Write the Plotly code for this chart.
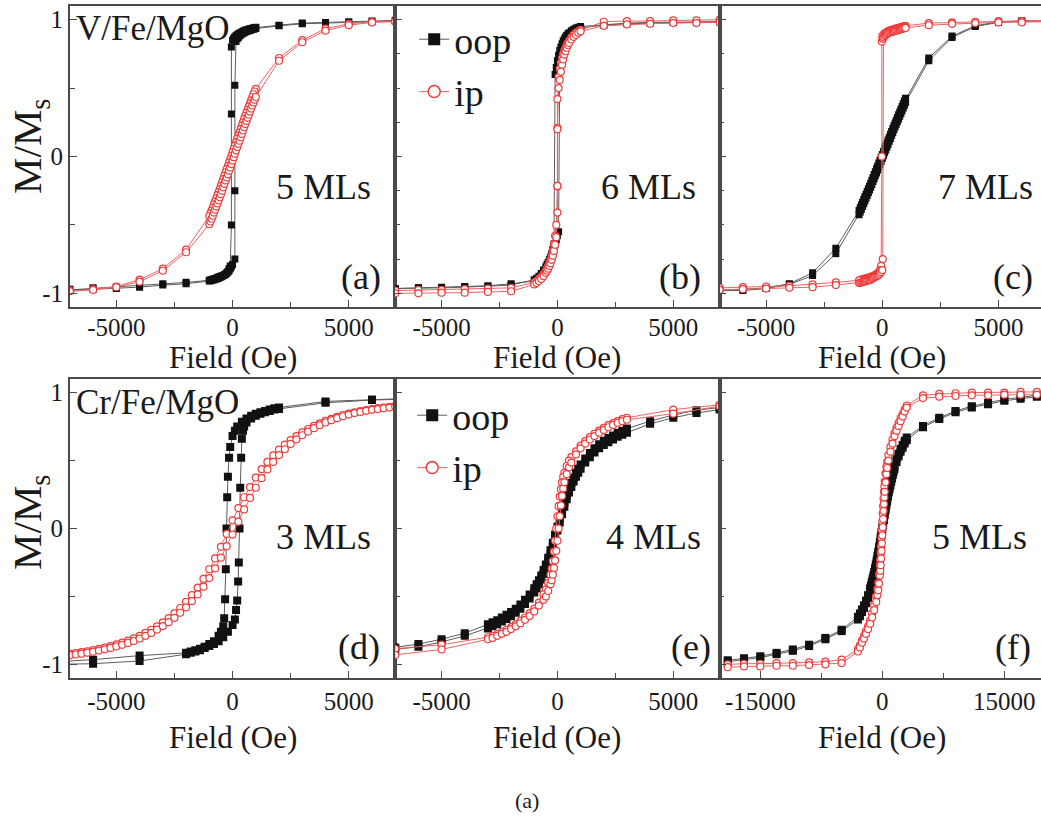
import plotly.graph_objects as go

W, H = 1047, 816
FONT = "Liberation Serif, Times New Roman, Times, serif"
TXT = "#1a1a1a"

# ---------------- data ----------------
# (a) V/Fe/MgO, 5 MLs
A_OOP_DN_X = [7000, 6000, 5000, 4000, 3000, 2000,
              1000, 950, 900, 850, 800, 750, 700, 650, 600, 550, 500, 450, 400, 350, 300, 250, 200, 150, 100, 50, 0,
              -50, -50, -50,
              -100, -150, -200, -250, -300, -350, -400, -450, -500, -550, -600, -650, -700, -750, -800, -850, -900, -950, -1000,
              -2000, -3000, -4000, -5000, -6000, -7000]
A_OOP_DN_Y = [0.995, 0.99, 0.985, 0.98, 0.975, 0.96,
              0.945, 0.943, 0.94, 0.938, 0.935, 0.933, 0.93, 0.928, 0.925, 0.922, 0.92, 0.915, 0.91, 0.905, 0.90, 0.895, 0.89, 0.883, 0.875, 0.865, 0.85,
              0.80, 0.31, -0.50,
              -0.80, -0.82, -0.84, -0.85, -0.86, -0.865, -0.87, -0.873, -0.875, -0.878, -0.88, -0.885, -0.89, -0.892, -0.895, -0.898, -0.90, -0.903, -0.905,
              -0.92, -0.93, -0.945, -0.955, -0.96, -0.97]
A_OOP_UP_X = [-7000, -6000, -5000, -4000, -3000, -2000,
              -1000, -950, -900, -850, -800, -750, -700, -650, -600, -550, -500, -450, -400, -350, -300, -250, -200, -150, -100, -50, 0,
              100, 100, 100,
              150, 200, 250, 300, 350, 400, 450, 500, 550, 600, 650, 700, 750, 800, 850, 900, 950, 1000,
              2000, 3000, 4000, 5000, 6000, 7000]
A_OOP_UP_Y = [-0.975, -0.97, -0.965, -0.955, -0.94, -0.93,
              -0.91, -0.908, -0.905, -0.903, -0.90, -0.898, -0.895, -0.892, -0.89, -0.885, -0.88, -0.875, -0.87, -0.865, -0.86, -0.853, -0.845, -0.835, -0.82, -0.805, -0.79,
              -0.75, -0.25, 0.52,
              0.84, 0.86, 0.87, 0.88, 0.888, 0.895, 0.90, 0.905, 0.91, 0.915, 0.918, 0.92, 0.923, 0.925, 0.928, 0.93, 0.933, 0.935,
              0.955, 0.97, 0.975, 0.98, 0.985, 0.99]
A_IP_DN_X = [7000, 6000, 5000, 4000, 3000, 2000,
             1000, 950, 900, 850, 800, 750, 700, 650, 600, 550, 500, 450, 400, 350, 300, 250, 200, 150, 100, 50, 0,
             -50, -100, -150, -200, -250, -300, -350, -400, -450, -500, -550, -600, -650, -700, -750, -800, -850, -900, -950, -1000,
             -2000, -3000, -4000, -5000, -6000, -7000]
A_IP_DN_Y = [0.99, 0.985, 0.97, 0.935, 0.85, 0.72,
             0.495, 0.475, 0.455, 0.433, 0.41, 0.388, 0.365, 0.343, 0.32, 0.298, 0.275, 0.25, 0.225, 0.20, 0.175, 0.153, 0.13, 0.105, 0.08, 0.055, 0.03,
             0.005, -0.02, -0.045, -0.07, -0.093, -0.115, -0.14, -0.165, -0.19, -0.215, -0.238, -0.26, -0.283, -0.305, -0.328, -0.35, -0.373, -0.395, -0.415, -0.435,
             -0.68, -0.82, -0.90, -0.95, -0.97, -0.98]
A_IP_UP_X = [-7000, -6000, -5000, -4000, -3000, -2000,
             -1000, -950, -900, -850, -800, -750, -700, -650, -600, -550, -500, -450, -400, -350, -300, -250, -200, -150, -100, -50, 0,
             50, 100, 150, 200, 250, 300, 350, 400, 450, 500, 550, 600, 650, 700, 750, 800, 850, 900, 950, 1000,
             2000, 3000, 4000, 5000, 6000, 7000]
A_IP_UP_Y = [-0.985, -0.975, -0.955, -0.915, -0.835, -0.70,
             -0.495, -0.475, -0.455, -0.433, -0.41, -0.388, -0.365, -0.343, -0.32, -0.298, -0.275, -0.25, -0.225, -0.20, -0.175, -0.153, -0.13, -0.105, -0.08, -0.055, -0.03,
             -0.005, 0.02, 0.045, 0.07, 0.093, 0.115, 0.14, 0.165, 0.19, 0.215, 0.238, 0.26, 0.283, 0.305, 0.328, 0.35, 0.373, 0.395, 0.415, 0.435,
             0.70, 0.835, 0.92, 0.96, 0.98, 0.985]

# (b) V/Fe/MgO, 6 MLs
B_OOP_DN_X = [7000, 6000, 5000, 4000, 3000, 2000,
              1000, 900, 800, 700, 600,
              500, 450, 400, 350, 300, 250, 200, 150, 100, 50, 0, -50, -100,
              -150, -200, -250, -300, -350, -400, -450, -500, -600, -700, -800, -900, -1000,
              -2000, -3000, -4000, -5000, -6000, -7000]
B_OOP_DN_Y = [0.985, 0.985, 0.98, 0.98, 0.975, 0.965,
              0.95, 0.945, 0.94, 0.93, 0.92,
              0.905, 0.895, 0.885, 0.873, 0.86, 0.845, 0.825, 0.80, 0.775, 0.74, 0.70, 0.65, 0.60,
              -0.64, -0.68, -0.71, -0.735, -0.755, -0.775, -0.79, -0.805, -0.83, -0.855, -0.875, -0.89, -0.90,
              -0.94, -0.95, -0.955, -0.96, -0.96, -0.965]
B_OOP_UP_X = [-7000, -6000, -5000, -4000, -3000, -2000,
              -1000, -900, -800, -700, -600,
              -500, -450, -400, -350, -300, -250, -200, -150, -100, -50, 0, 50,
              100, 150, 200, 250, 300, 350, 400, 450, 500,
              600, 700, 800, 900, 1000,
              2000, 3000, 4000, 5000, 6000, 7000]
B_OOP_UP_Y = [-0.965, -0.96, -0.955, -0.95, -0.945, -0.93,
              -0.91, -0.90, -0.89, -0.875, -0.855,
              -0.83, -0.815, -0.80, -0.78, -0.76, -0.735, -0.71, -0.68, -0.64, -0.61, -0.58, -0.55,
              0.66, 0.70, 0.74, 0.77, 0.80, 0.823, 0.845, 0.86, 0.875,
              0.895, 0.91, 0.925, 0.935, 0.94,
              0.96, 0.97, 0.975, 0.98, 0.98, 0.985]
B_IP_DN_X = [7000, 6000, 5000, 4000, 3000, 2000,
             1000, 900, 800, 700, 600,
             500, 450, 400, 350, 300, 250, 200, 150, 100, 50,
             0, 0, 0, -50,
             -100, -150, -200, -250, -300, -350, -400, -450, -500,
             -600, -700, -800, -900, -1000,
             -2000, -3000, -4000, -5000, -6000, -7000]
B_IP_DN_Y = [1.0, 0.995, 0.995, 0.99, 0.99, 0.985,
             0.925, 0.915, 0.905, 0.89, 0.87,
             0.845, 0.83, 0.815, 0.795, 0.775, 0.75, 0.72, 0.685, 0.64, 0.58,
             0.42, 0.21, -0.22, -0.50,
             -0.58, -0.64, -0.69, -0.725, -0.755, -0.78, -0.80, -0.82, -0.835,
             -0.86, -0.88, -0.895, -0.91, -0.92,
             -0.96, -0.965, -0.97, -0.975, -0.975, -0.98]
B_IP_UP_X = [-7000, -6000, -5000, -4000, -3000, -2000,
             -1000, -900, -800, -700, -600,
             -500, -450, -400, -350, -300, -250, -200, -150, -100, -50,
             0, 0, 0, 50,
             100, 150, 200, 250, 300, 350, 400, 450, 500,
             600, 700, 800, 900, 1000,
             2000, 3000, 4000, 5000, 6000, 7000]
B_IP_UP_Y = [-1.0, -1.0, -0.995, -0.995, -0.99, -0.985,
             -0.935, -0.925, -0.91, -0.895, -0.875,
             -0.85, -0.835, -0.82, -0.80, -0.78, -0.755, -0.725, -0.69, -0.645, -0.59,
             -0.41, -0.215, 0.20, 0.50,
             0.56, 0.62, 0.67, 0.71, 0.745, 0.77, 0.795, 0.815, 0.83,
             0.855, 0.875, 0.89, 0.905, 0.915,
             0.955, 0.965, 0.97, 0.975, 0.975, 0.98]

# (c) V/Fe/MgO, 7 MLs
C_OOP_DN_X = [7000, 6000, 5000, 4000, 3000, 2000,
              1000, 950, 900, 850, 800, 750, 700, 650, 600, 550, 500, 450, 400, 350, 300, 250, 200, 150, 100, 50, 0,
              -50, -100, -150, -200, -250, -300, -350, -400, -450, -500, -550, -600, -650, -700, -750, -800, -850, -900, -950, -1000,
              -2000, -3000, -4000, -5000, -6000, -7000]
C_OOP_DN_Y = [0.995, 0.99, 0.985, 0.955, 0.88, 0.72,
              0.425, 0.405, 0.385, 0.365, 0.345, 0.325, 0.305, 0.285, 0.265, 0.245, 0.225, 0.204, 0.183, 0.162, 0.141, 0.12, 0.099, 0.078, 0.057, 0.036, 0.015,
              -0.006, -0.027, -0.048, -0.069, -0.09, -0.111, -0.132, -0.153, -0.174, -0.195, -0.215, -0.235, -0.255, -0.275, -0.295, -0.315, -0.335, -0.355, -0.375, -0.395,
              -0.67, -0.85, -0.93, -0.96, -0.97, -0.975]
C_OOP_UP_X = [-7000, -6000, -5000, -4000, -3000, -2000,
              -1000, -950, -900, -850, -800, -750, -700, -650, -600, -550, -500, -450, -400, -350, -300, -250, -200, -150, -100, -50, 0,
              50, 100, 150, 200, 250, 300, 350, 400, 450, 500, 550, 600, 650, 700, 750, 800, 850, 900, 950, 1000,
              2000, 3000, 4000, 5000, 6000, 7000]
C_OOP_UP_Y = [-0.98, -0.98, -0.965, -0.935, -0.87, -0.71,
              -0.425, -0.405, -0.385, -0.365, -0.345, -0.325, -0.305, -0.285, -0.265, -0.245, -0.225, -0.204, -0.183, -0.162, -0.141, -0.12, -0.099, -0.078, -0.057, -0.036, -0.015,
              0.006, 0.027, 0.048, 0.069, 0.09, 0.111, 0.132, 0.153, 0.174, 0.195, 0.215, 0.235, 0.255, 0.275, 0.295, 0.315, 0.335, 0.355, 0.375, 0.395,
              0.70, 0.87, 0.95, 0.98, 0.99, 0.99]
C_IP_DN_X = [7000, 6000, 5000, 4000, 3000, 2000,
             1000, 950, 900, 850, 800, 750, 700, 650, 600, 550, 500, 450, 400, 350, 300, 250, 200, 150, 100, 50, 0,
             -20, -20,
             -50, -100, -150, -200, -250, -300, -350, -400, -450, -500, -550, -600, -650, -700, -750, -800, -850, -900, -950, -1000,
             -2000, -3000, -4000, -5000, -6000, -7000]
C_IP_DN_Y = [0.995, 0.99, 0.99, 0.985, 0.98, 0.975,
             0.955, 0.953, 0.95, 0.948, 0.945, 0.943, 0.94, 0.938, 0.935, 0.933, 0.93, 0.928, 0.925, 0.922, 0.92, 0.915, 0.91, 0.905, 0.90, 0.89, 0.88,
             0.84, 0.0,
             -0.80, -0.83, -0.845, -0.855, -0.86, -0.865, -0.87, -0.875, -0.878, -0.88, -0.883, -0.885, -0.888, -0.89, -0.893, -0.895, -0.898, -0.90, -0.903, -0.905,
             -0.92, -0.935, -0.945, -0.95, -0.955, -0.96]
C_IP_UP_X = [-7000, -6000, -5000, -4000, -3000, -2000,
             -1000, -950, -900, -850, -800, -750, -700, -650, -600, -550, -500, -450, -400, -350, -300, -250, -200, -150, -100, -50, 0,
             20, 20,
             50, 100, 150, 200, 250, 300, 350, 400, 450, 500, 550, 600, 650, 700, 750, 800, 850, 900, 950, 1000,
             2000, 3000, 4000, 5000, 6000, 7000]
C_IP_UP_Y = [-0.975, -0.97, -0.965, -0.96, -0.955, -0.94,
             -0.925, -0.923, -0.92, -0.918, -0.915, -0.913, -0.91, -0.908, -0.905, -0.903, -0.90, -0.895, -0.89, -0.885, -0.88, -0.875, -0.87, -0.865, -0.855, -0.845, -0.83,
             -0.75, 0.86,
             0.87, 0.88, 0.888, 0.895, 0.90, 0.905, 0.908, 0.91, 0.913, 0.915, 0.918, 0.92, 0.923, 0.925, 0.928, 0.93, 0.933, 0.935, 0.938, 0.94,
             0.96, 0.97, 0.975, 0.98, 0.98, 0.985]

# (d) Cr/Fe/MgO, 3 MLs
D_OOP_DN_X = [8000, 6000, 4000, 2000, 1800, 1600, 1400, 1200, 1000, 800, 600, 400, 200, 100, 0,
              -100, -150, -200, -230, -260, -290, -320, -360, -400, -500, -600,
              -800, -1000, -1200, -1400, -1600, -1800, -2000, -4000, -6000, -8000]
D_OOP_DN_Y = [0.96, 0.95, 0.935, 0.89, 0.885, 0.875, 0.865, 0.855, 0.845, 0.83, 0.81, 0.785, 0.75, 0.72, 0.68,
              0.60, 0.52, 0.38, 0.23, 0.0, -0.30, -0.52, -0.66, -0.72, -0.76, -0.79,
              -0.83, -0.85, -0.87, -0.885, -0.895, -0.905, -0.915, -0.935, -0.965, -0.985]
D_OOP_UP_X = [-8000, -6000, -4000, -2000, -1800, -1600, -1400, -1200, -1000, -800, -600, -400, -200, 0,
              100, 150, 200, 240, 270, 300, 330, 370, 400, 450, 500, 600,
              800, 1000, 1200, 1400, 1600, 1800, 2000, 4000, 6000, 8000]
D_OOP_UP_Y = [-1.0, -0.995, -0.975, -0.925, -0.915, -0.905, -0.895, -0.88, -0.865, -0.85, -0.83, -0.80, -0.76, -0.71,
              -0.67, -0.60, -0.53, -0.39, -0.25, 0.0, 0.30, 0.52, 0.66, 0.72, 0.75, 0.78,
              0.81, 0.83, 0.845, 0.855, 0.865, 0.875, 0.88, 0.925, 0.945, 0.955]
D_IP_DN_X = [7000, 6750, 6500, 6250, 6000, 5750, 5500, 5250, 5000, 4750, 4500, 4250, 4000, 3750, 3500, 3250,
             3000, 2750, 2500, 2250, 2000, 1750, 1500, 1250, 1000, 750, 500, 250, 0,
             -250, -500, -750, -1000, -1250, -1500, -1750, -2000, -2250, -2500, -2750, -3000, -3250, -3500, -3750,
             -4000, -4250, -4500, -4750, -5000, -5250, -5500, -5750, -6000, -6250, -6500, -6750, -7000]
D_IP_DN_Y = [0.90, 0.895, 0.89, 0.885, 0.878, 0.871, 0.863, 0.854, 0.845, 0.835, 0.822, 0.807, 0.792, 0.774, 0.755, 0.732,
             0.707, 0.679, 0.65, 0.617, 0.58, 0.538, 0.49, 0.437, 0.375, 0.305, 0.23, 0.15, 0.06,
             -0.04, -0.135, -0.22, -0.30, -0.37, -0.435, -0.49, -0.54, -0.585, -0.625, -0.66, -0.69, -0.72, -0.745, -0.768,
             -0.79, -0.808, -0.825, -0.84, -0.853, -0.865, -0.876, -0.886, -0.895, -0.903, -0.91, -0.917, -0.923]
D_IP_UP_X = [-7000, -6750, -6500, -6250, -6000, -5750, -5500, -5250, -5000, -4750, -4500, -4250, -4000, -3750, -3500, -3250,
             -3000, -2750, -2500, -2250, -2000, -1750, -1500, -1250, -1000, -750, -500, -250, 0,
             250, 500, 750, 1000, 1250, 1500, 1750, 2000, 2250, 2500, 2750, 3000, 3250, 3500, 3750,
             4000, 4250, 4500, 4750, 5000, 5250, 5500, 5750, 6000, 6250, 6500, 6750, 7000]
D_IP_UP_Y = [-0.932, -0.927, -0.921, -0.914, -0.907, -0.898, -0.889, -0.879, -0.868, -0.856, -0.842, -0.827, -0.81, -0.79, -0.768, -0.744,
             -0.718, -0.689, -0.657, -0.62, -0.58, -0.535, -0.485, -0.428, -0.365, -0.293, -0.215, -0.13, -0.045,
             0.05, 0.14, 0.225, 0.30, 0.37, 0.435, 0.49, 0.54, 0.583, 0.622, 0.656, 0.686, 0.713, 0.738, 0.76,
             0.78, 0.797, 0.812, 0.826, 0.838, 0.849, 0.858, 0.866, 0.873, 0.879, 0.885, 0.89, 0.895]

# (e) Cr/Fe/MgO, 4 MLs
E_OOP_DN_X = [7000, 6000, 5000, 4000,
              3000, 2800, 2600, 2400, 2200, 2000, 1800, 1600, 1400, 1200,
              1000, 900, 800, 700, 600, 500, 400, 300, 200, 100, 0, -100, -200, -300, -400, -500, -600, -700, -800, -900, -1000,
              -1200, -1400, -1600, -1800, -2000, -2200, -2400, -2600, -2800, -3000,
              -4000, -5000, -6000, -7000]
E_OOP_DN_Y = [0.89, 0.87, 0.835, 0.79,
              0.735, 0.72, 0.705, 0.685, 0.665, 0.645, 0.62, 0.59, 0.555, 0.515,
              0.47, 0.44, 0.41, 0.375, 0.335, 0.295, 0.245, 0.19, 0.135, 0.075, 0.015, -0.045, -0.105, -0.16, -0.215, -0.265, -0.305, -0.345, -0.38, -0.41, -0.44,
              -0.485, -0.525, -0.56, -0.59, -0.615, -0.635, -0.655, -0.675, -0.69, -0.705,
              -0.77, -0.815, -0.85, -0.875]
E_OOP_UP_X = [-7000, -6000, -5000, -4000,
              -3000, -2800, -2600, -2400, -2200, -2000, -1800, -1600, -1400, -1200,
              -1000, -900, -800, -700, -600, -500, -400, -300, -200, -100, 0, 100, 200, 300, 400, 500, 600, 700, 800, 900, 1000,
              1200, 1400, 1600, 1800, 2000, 2200, 2400, 2600, 2800, 3000,
              4000, 5000, 6000, 7000]
E_OOP_UP_Y = [-0.89, -0.87, -0.835, -0.79,
              -0.735, -0.72, -0.705, -0.685, -0.665, -0.645, -0.62, -0.59, -0.555, -0.515,
              -0.47, -0.44, -0.41, -0.375, -0.335, -0.295, -0.245, -0.19, -0.135, -0.075, -0.015, 0.045, 0.105, 0.16, 0.215, 0.265, 0.305, 0.345, 0.38, 0.41, 0.44,
              0.485, 0.525, 0.56, 0.59, 0.615, 0.635, 0.655, 0.675, 0.69, 0.705,
              0.77, 0.815, 0.85, 0.875]
E_IP_DN_X = [7000, 5000,
             3000, 2800, 2600, 2400, 2200, 2000, 1800, 1600, 1400, 1200, 1000, 800, 600,
             500, 400, 300, 250, 200, 150, 100, 50, 0, -50, -100, -150, -200, -250, -300, -400, -500,
             -600, -800, -1000, -1200, -1400, -1600, -1800, -2000, -2200, -2400, -2600, -2800, -3000,
             -5000, -7000]
E_IP_DN_Y = [0.91, 0.875,
             0.815, 0.805, 0.79, 0.775, 0.76, 0.74, 0.72, 0.697, 0.672, 0.643, 0.61, 0.567, 0.525,
             0.50, 0.46, 0.41, 0.38, 0.34, 0.29, 0.235, 0.165, 0.09, 0.0, -0.09, -0.17, -0.24, -0.295, -0.34, -0.40, -0.45,
             -0.485, -0.545, -0.59, -0.625, -0.655, -0.68, -0.705, -0.725, -0.745, -0.762, -0.778, -0.79, -0.80,
             -0.855, -0.885]
E_IP_UP_X = [-7000, -5000,
             -3000, -2800, -2600, -2400, -2200, -2000, -1800, -1600, -1400, -1200, -1000, -800, -600,
             -500, -400, -300, -250, -200, -150, -100, -50, 0, 50, 100, 150, 200, 250, 300, 400, 500,
             600, 800, 1000, 1200, 1400, 1600, 1800, 2000, 2200, 2400, 2600, 2800, 3000,
             5000, 7000]
E_IP_UP_Y = [-0.93, -0.89,
             -0.815, -0.805, -0.79, -0.775, -0.76, -0.74, -0.72, -0.697, -0.672, -0.643, -0.61, -0.567, -0.525,
             -0.50, -0.46, -0.41, -0.38, -0.34, -0.29, -0.235, -0.165, -0.09, 0.0, 0.09, 0.17, 0.24, 0.295, 0.34, 0.40, 0.45,
             0.485, 0.545, 0.59, 0.625, 0.655, 0.68, 0.705, 0.725, 0.745, 0.762, 0.778, 0.79, 0.80,
             0.845, 0.90]

# (f) Cr/Fe/MgO, 5 MLs
F_OOP_DN_X = [19000, 17000, 15000, 13000, 11000, 9000, 7000, 5000,
              3000, 2750, 2500, 2250, 2000, 1750, 1500,
              1400, 1300, 1200, 1100, 1000, 900, 800, 700, 600, 500, 400, 300, 200, 100, 0,
              -100, -200, -300, -400, -500, -600, -700, -800, -900, -1000, -1100, -1200, -1300, -1400,
              -1500, -1750, -2000, -2250, -2500, -2750, -3000,
              -5000, -7000, -9000, -11000, -13000, -15000, -17000, -19000]
F_OOP_DN_Y = [0.98, 0.965, 0.95, 0.925, 0.90, 0.865, 0.815, 0.755,
              0.67, 0.645, 0.615, 0.585, 0.55, 0.51, 0.46,
              0.44, 0.415, 0.39, 0.365, 0.34, 0.313, 0.285, 0.255, 0.223, 0.19, 0.154, 0.118, 0.082, 0.046, 0.01,
              -0.026, -0.062, -0.098, -0.134, -0.17, -0.203, -0.235, -0.265, -0.293, -0.32, -0.345, -0.37, -0.395, -0.42,
              -0.44, -0.49, -0.53, -0.565, -0.595, -0.625, -0.65,
              -0.745, -0.805, -0.855, -0.89, -0.915, -0.94, -0.955, -0.97]
F_OOP_UP_X = [-19000, -17000, -15000, -13000, -11000, -9000, -7000, -5000,
              -3000, -2750, -2500, -2250, -2000, -1750, -1500,
              -1400, -1300, -1200, -1100, -1000, -900, -800, -700, -600, -500, -400, -300, -200, -100, 0,
              100, 200, 300, 400, 500, 600, 700, 800, 900, 1000, 1100, 1200, 1300, 1400,
              1500, 1750, 2000, 2250, 2500, 2750, 3000,
              5000, 7000, 9000, 11000, 13000, 15000, 17000, 19000]
F_OOP_UP_Y = [-0.98, -0.965, -0.95, -0.925, -0.90, -0.865, -0.815, -0.755,
              -0.67, -0.645, -0.615, -0.585, -0.55, -0.51, -0.46,
              -0.44, -0.415, -0.39, -0.365, -0.34, -0.313, -0.285, -0.255, -0.223, -0.19, -0.154, -0.118, -0.082, -0.046, -0.01,
              0.026, 0.062, 0.098, 0.134, 0.17, 0.203, 0.235, 0.265, 0.293, 0.32, 0.345, 0.37, 0.395, 0.42,
              0.44, 0.49, 0.53, 0.565, 0.595, 0.625, 0.65,
              0.745, 0.805, 0.855, 0.89, 0.915, 0.94, 0.955, 0.97]
F_IP_DN_X = [19000, 17000, 15000, 13000, 11000, 9000, 7000, 5000,
             3000, 2750, 2500, 2250, 2000, 1750, 1500, 1250, 1000, 750,
             600, 500, 400, 300, 250, 200, 150, 100, 50, 0, -50, -100, -150, -200, -250, -300, -400, -500, -600,
             -750, -1000, -1250, -1500, -1750, -2000, -2250, -2500, -2750, -3000,
             -5000, -7000, -9000, -11000, -13000, -15000, -17000, -19000]
F_IP_DN_Y = [1.005, 1.005, 1.0, 1.0, 1.0, 0.995, 0.99, 0.98,
             0.905, 0.875, 0.84, 0.81, 0.775, 0.74, 0.70, 0.655, 0.60, 0.54,
             0.49, 0.455, 0.405, 0.345, 0.31, 0.27, 0.22, 0.165, 0.11, 0.05, -0.01, -0.07, -0.13, -0.18, -0.23, -0.27, -0.34, -0.40, -0.445,
             -0.50, -0.565, -0.625, -0.68, -0.72, -0.755, -0.79, -0.825, -0.86, -0.89,
             -0.965, -0.98, -0.985, -0.99, -0.99, -0.995, -0.995, -1.0]
F_IP_UP_X = [-19000, -17000, -15000, -13000, -11000, -9000, -7000, -5000,
             -3000, -2750, -2500, -2250, -2000, -1750, -1500, -1250, -1000, -750,
             -600, -500, -400, -300, -250, -200, -150, -100, -50, 0, 50, 100, 150, 200, 250, 300, 400, 500, 600,
             750, 1000, 1250, 1500, 1750, 2000, 2250, 2500, 2750, 3000,
             5000, 7000, 9000, 11000, 13000, 15000, 17000, 19000]
F_IP_UP_Y = [-1.02, -1.015, -1.015, -1.01, -1.01, -1.005, -1.0, -0.99,
             -0.905, -0.875, -0.84, -0.81, -0.775, -0.74, -0.70, -0.655, -0.60, -0.54,
             -0.49, -0.455, -0.405, -0.345, -0.31, -0.27, -0.22, -0.165, -0.11, -0.05, 0.01, 0.07, 0.13, 0.18, 0.23, 0.27, 0.34, 0.40, 0.445,
             0.50, 0.565, 0.625, 0.68, 0.72, 0.755, 0.79, 0.825, 0.86, 0.89,
             0.96, 0.97, 0.975, 0.98, 0.98, 0.985, 0.985, 0.985]

PANELS = [
    # key, panel label, thickness, x range, x ticks, x tick text, x minor step, y minor step, oop, ip
    ("a", "(a)", "5 MLs", [-7000, 7000], [-5000, 0, 5000], ["-5000", "0", "5000"], 2500, 0.5,
     (A_OOP_DN_X + A_OOP_UP_X, A_OOP_DN_Y + A_OOP_UP_Y), (A_IP_DN_X + A_IP_UP_X, A_IP_DN_Y + A_IP_UP_Y)),
    ("b", "(b)", "6 MLs", [-7000, 7000], [-5000, 0, 5000], ["-5000", "0", "5000"], 2500, 0.25,
     (B_OOP_DN_X + B_OOP_UP_X, B_OOP_DN_Y + B_OOP_UP_Y), (B_IP_DN_X + B_IP_UP_X, B_IP_DN_Y + B_IP_UP_Y)),
    ("c", "(c)", "7 MLs", [-7000, 7000], [-5000, 0, 5000], ["-5000", "0", "5000"], 2500, 0.25,
     (C_OOP_DN_X + C_OOP_UP_X, C_OOP_DN_Y + C_OOP_UP_Y), (C_IP_DN_X + C_IP_UP_X, C_IP_DN_Y + C_IP_UP_Y)),
    ("d", "(d)", "3 MLs", [-7000, 7000], [-5000, 0, 5000], ["-5000", "0", "5000"], 2500, 0.5,
     (D_OOP_DN_X + D_OOP_UP_X, D_OOP_DN_Y + D_OOP_UP_Y), (D_IP_DN_X + D_IP_UP_X, D_IP_DN_Y + D_IP_UP_Y)),
    ("e", "(e)", "4 MLs", [-7000, 7000], [-5000, 0, 5000], ["-5000", "0", "5000"], 2500, 0.5,
     (E_OOP_DN_X + E_OOP_UP_X, E_OOP_DN_Y + E_OOP_UP_Y), (E_IP_DN_X + E_IP_UP_X, E_IP_DN_Y + E_IP_UP_Y)),
    ("f", "(f)", "5 MLs", [-20000, 20000], [-15000, 0, 15000], ["-15000", "0", "15000"], 7500, 0.5,
     (F_OOP_DN_X + F_OOP_UP_X, F_OOP_DN_Y + F_OOP_UP_Y), (F_IP_DN_X + F_IP_UP_X, F_IP_DN_Y + F_IP_UP_Y)),
]
Y_TICKS = [-1, 0, 1]
Y_TICKTEXT = ["-1", "0", "1"]
LEGEND_NAMES = ["oop", "ip"]

for p in PANELS:
    for xs, ys in (p[8], p[9]):
        assert len(xs) == len(ys), (p[0], len(xs), len(ys))

# ---------------- layout geometry (pixels) ----------------
COLS = [(70, 396), (396, 721), (721, 1047)]
ROWS = [(6, 307), (379, 678)]


def PX(v):
    return v / W


def PY(v):
    return 1 - v / H


LINE_C = "#4a4a4a"
OOP_LINE = dict(color="#5c5c5c", width=1)
IP_LINE = dict(color="#f06262", width=1)
fig = go.Figure()
layout = {}
annotations = []

for i, p in enumerate(PANELS):
    key, lab, mls, xr, xt, xtt, xminor, yminor, oop, ip = p
    r, c = divmod(i, 3)
    n = "" if i == 0 else str(i + 1)
    xa, ya = "x" + n, "y" + n
    left, right = COLS[c]
    top, bot = ROWS[r]
    layout["xaxis" + n] = dict(
        domain=[PX(left), PX(right)], range=xr, anchor=ya,
        showline=True, mirror=True, linecolor=LINE_C, linewidth=1.6,
        ticks="inside", ticklen=7, tickwidth=1.3, tickcolor=LINE_C,
        tickmode="array", tickvals=xt, ticktext=xtt,
        ticklabelstandoff=(-3 if r == 0 else 0),
        minor=dict(ticks="inside", ticklen=5, tickwidth=1.2, tickcolor=LINE_C, tickmode="linear", tick0=0, dtick=xminor),
        showgrid=False, zeroline=False,
        tickfont=dict(family=FONT, size=25, color=TXT),
    )
    layout["yaxis" + n] = dict(
        domain=[PY(bot), PY(top)], range=[-1.1, 1.1], anchor=xa,
        showline=True, mirror=True, linecolor=LINE_C, linewidth=1.6,
        ticks="inside", ticklen=7, tickwidth=1.3, tickcolor=LINE_C,
        tickmode="array", tickvals=Y_TICKS, ticktext=Y_TICKTEXT,
        showticklabels=(c == 0),
        minor=dict(ticks="inside", ticklen=5, tickwidth=1.2, tickcolor=LINE_C, tickmode="linear", tick0=0, dtick=yminor),
        showgrid=False, zeroline=False,
        tickfont=dict(family=FONT, size=25, color=TXT),
    )
    sq = 7 if r == 0 else 8
    fig.add_trace(go.Scatter(
        x=oop[0], y=oop[1], xaxis=xa, yaxis=ya, mode="lines+markers", name="oop",
        line=OOP_LINE, marker=dict(symbol="square", size=sq, color="#111111", line=dict(width=0)),
        showlegend=False,
    ))
    fig.add_trace(go.Scatter(
        x=ip[0], y=ip[1], xaxis=xa, yaxis=ya, mode="lines+markers", name="ip",
        line=IP_LINE, marker=dict(symbol="circle", size=7, color="white", line=dict(color="#ee3b3b", width=1.2)),
        showlegend=False,
    ))
    # legend entries (panels b and e)
    leg = {"b": "legend", "e": "legend2"}.get(key)
    if leg:
        fig.add_trace(go.Scatter(
            x=[None], y=[None], xaxis=xa, yaxis=ya, mode="lines+markers", name=LEGEND_NAMES[0],
            line=OOP_LINE, marker=dict(symbol="square", size=12, color="#111111", line=dict(width=0)),
            showlegend=True, legend=leg,
        ))
        fig.add_trace(go.Scatter(
            x=[None], y=[None], xaxis=xa, yaxis=ya, mode="lines+markers", name=LEGEND_NAMES[1],
            line=IP_LINE, marker=dict(symbol="circle", size=12, color="white", line=dict(color="#ee3b3b", width=1.5)),
            showlegend=True, legend=leg,
        ))

    # "Field (Oe)" axis title
    annotations.append(dict(text="Field (Oe)", xref="paper", yref="paper",
                            x=PX((left + right) / 2), y=PY(357 if r == 0 else 737),
                            xanchor="center", yanchor="middle", showarrow=False,
                            font=dict(family=FONT, size=31, color=TXT)))

# Panel texts: (text, left px, center y px, size)
PANEL_TEXTS = [
    ("V/Fe/MgO", 74, 29, 35), ("5 MLs", 275, 187, 36), ("(a)", 340, 277, 36),
    ("6 MLs", 600, 187, 36), ("(b)", 658, 277, 36),
    ("7 MLs", 938, 187, 36), ("(c)", 993, 277, 36),
    ("Cr/Fe/MgO", 74, 402, 35), ("3 MLs", 275, 537, 36), ("(d)", 337, 647, 36),
    ("4 MLs", 605, 537, 36), ("(e)", 670, 647, 36),
    ("5 MLs", 932, 537, 36), ("(f)", 995, 647, 36),
]
for t, lx, cy, s in PANEL_TEXTS:
    annotations.append(dict(text=t, xref="paper", yref="paper", x=PX(lx), y=PY(cy),
                            xanchor="left", yanchor="middle", showarrow=False,
                            font=dict(family=FONT, size=s, color=TXT)))

# y-axis titles
for cy in (146, 522):
    annotations.append(dict(text="M/M<sub>s</sub>", xref="paper", yref="paper", x=PX(30), y=PY(cy),
                            xanchor="center", yanchor="middle", textangle=-90, showarrow=False,
                            font=dict(family=FONT, size=41, color=TXT)))

# figure caption
annotations.append(dict(text="(a)", xref="paper", yref="paper", x=PX(528), y=PY(800),
                        xanchor="center", yanchor="middle", showarrow=False,
                        font=dict(family=FONT, size=22, color=TXT)))

legend_common = dict(xanchor="left", yanchor="top", bgcolor="rgba(0,0,0,0)", borderwidth=0,
                     font=dict(family=FONT, size=38, color=TXT), itemsizing="trace",
                     tracegroupgap=0, itemclick=False, itemdoubleclick=False)

fig.update_layout(
    width=W, height=H, margin=dict(l=0, r=0, t=0, b=0),
    paper_bgcolor="white", plot_bgcolor="white",
    annotations=annotations,
    legend=dict(x=PX(415), y=PY(8), **legend_common),
    legend2=dict(x=PX(413), y=PY(384), **legend_common),
    **layout,
)

fig.write_html("out.html", config={"displayModeBar": False},
               post_script="document.body.style.margin='0';document.body.style.overflow='hidden';")
